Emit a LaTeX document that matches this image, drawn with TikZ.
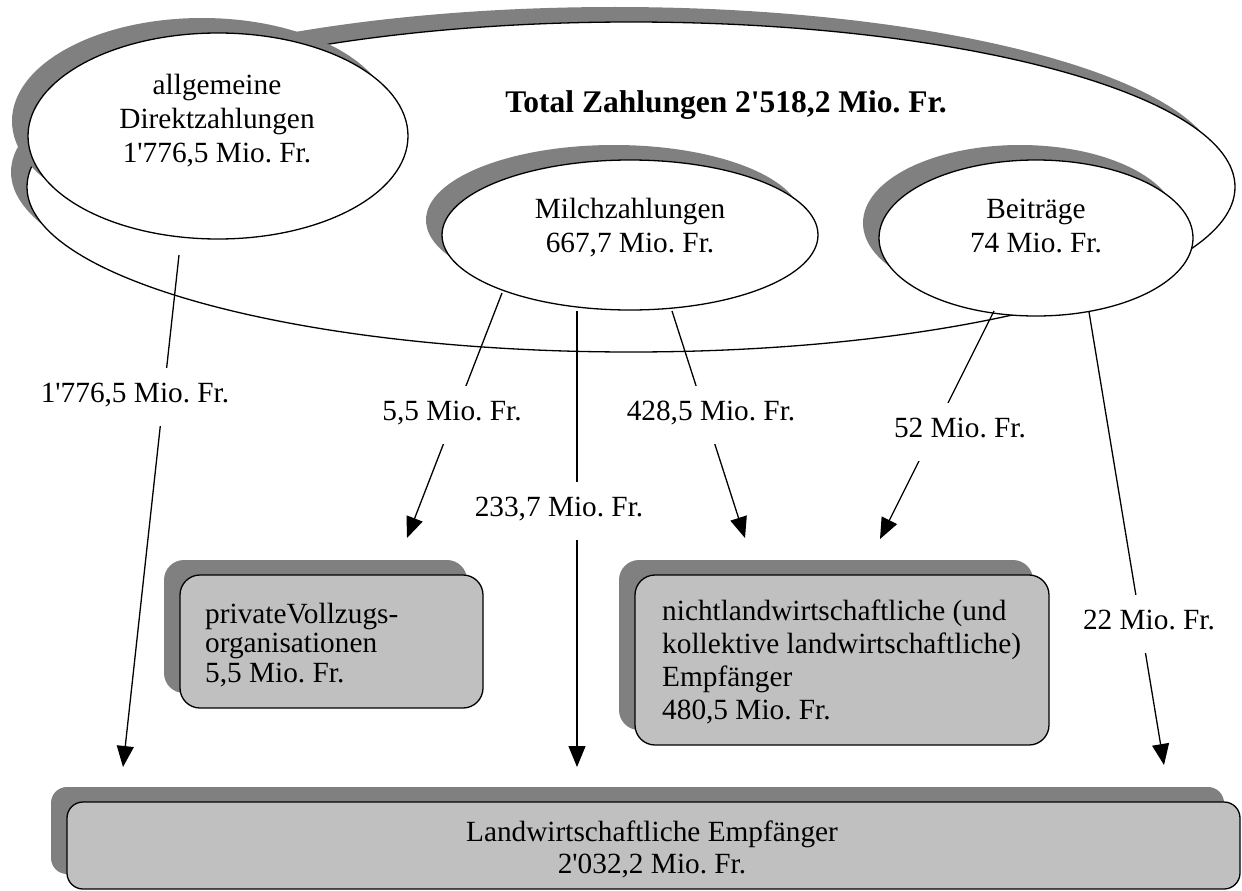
\documentclass[tikz,border=0pt]{standalone}
\usepackage{fontspec}
\setmainfont{Liberation Serif}[Ligatures=TeXOff]
\frenchspacing
\usetikzlibrary{arrows.meta,shapes.geometric,shadows}
\definecolor{shadowgray}{HTML}{808080}
\definecolor{boxgray}{HTML}{C0C0C0}
\tikzset{
  castshadow/.style={drop shadow={shadow xshift=-16pt,shadow yshift=15pt,fill=shadowgray,opacity=1}},
  oval/.style={ellipse,draw,line width=1.3pt,fill=white,inner sep=0pt,castshadow},
  card/.style={rectangle,rounded corners=20pt,draw,line width=1.3pt,fill=boxgray,inner sep=0pt,castshadow},
  txt/.style={inner sep=0pt,font=\fontsize{29.3}{34}\selectfont,anchor=base},
  flow/.style={line width=1.3pt,-{Triangle[length=21pt,width=17pt]}},
  amount/.style={fill=white,inner sep=0pt,text height=34pt,text depth=24pt,anchor=base,
    font=\fontsize{29.3}{34}\selectfont},
}
\begin{document}
\begin{tikzpicture}[x=1pt,y=-1pt]
\useasboundingbox (0,0) rectangle (1242,891);

% payment sources
\node[oval,minimum width=1208pt,minimum height=330pt] (total) at (631,187) {};
\node[oval,minimum width=380pt,minimum height=206pt] (allg) at (218,136) {};
\node[oval,minimum width=376pt,minimum height=150pt] (milch) at (630,235) {};
\node[oval,minimum width=314pt,minimum height=156pt] (beitr) at (1036,238) {};

% multi-line texts are placed by the baseline of their last line
\node[txt,font=\bfseries\fontsize{31.5}{36}\selectfont] (totaltxt) at (726,112) {Total Zahlungen 2'518,2 Mio. Fr.};
\node[txt,align=center] (allgtxt) at (217,162) {allgemeine\\Direktzahlungen\\1'776,5 Mio. Fr.};
\node[txt,align=center] (milchtxt) at (630,252) {Milchzahlungen\\667,7 Mio. Fr.};
\node[txt,align=center] (beitrtxt) at (1036,252) {Beiträge\\74 Mio. Fr.};

% recipients
\node[card,minimum width=303pt,minimum height=133pt] (priv) at (331.5,641.5) {};
\node[card,minimum width=414pt,minimum height=170pt] (nicht) at (842,660) {};
\node[card,rounded corners=16pt,minimum width=1173pt,minimum height=87pt] (landw) at (653.5,845.5) {};

\node[txt,anchor=base west,align=left,font=\fontsize{29.3}{29.5}\selectfont] (privtxt) at (205,682)
  {privateVollzugs-\\organisationen\\5,5 Mio. Fr.};
\node[txt,anchor=base west,align=left,font=\fontsize{29.3}{32.7}\selectfont] (nichttxt) at (662,719)
  {nichtlandwirtschaftliche (und\\kollektive landwirtschaftliche)\\Empfänger\\480,5 Mio. Fr.};
\node[txt,align=center,font=\fontsize{29.3}{31.5}\selectfont] (landwtxt) at (652,873)
  {Landwirtschaftliche Empfänger\\2'032,2 Mio. Fr.};

% flow start and end points
\coordinate (s1) at (179,255);  \coordinate (e1) at (123,767);
\coordinate (s2) at (502,293);  \coordinate (e2) at (407,538);
\coordinate (s3) at (577,311);  \coordinate (e3) at (577,767);
\coordinate (s4) at (672,311);  \coordinate (e4) at (745,538);
\coordinate (s5) at (994,311);  \coordinate (e5) at (880,539);
\coordinate (s6) at (1089,312); \coordinate (e6) at (1164,765);

\draw[flow] (s1) -- (e1);
\draw[flow] (s2) -- (e2);
\draw[flow] (s3) -- (e3);
\draw[flow] (s4) -- (e4);
\draw[flow] (s5) -- (e5);
\draw[flow] (s6) -- (e6);

% amounts on the flows
\node[amount] (f1) at (135,402) {1'776,5 Mio. Fr.};
\node[amount] (f2) at (452,420) {5,5 Mio. Fr.};
\node[amount] (f3) at (559,516) {233,7 Mio. Fr.};
\node[amount] (f4) at (711,420) {428,5 Mio. Fr.};
\node[amount] (f5) at (960,437) {52 Mio. Fr.};
\node[amount] (f6) at (1149,629) {22 Mio. Fr.};
\end{tikzpicture}
\end{document}
